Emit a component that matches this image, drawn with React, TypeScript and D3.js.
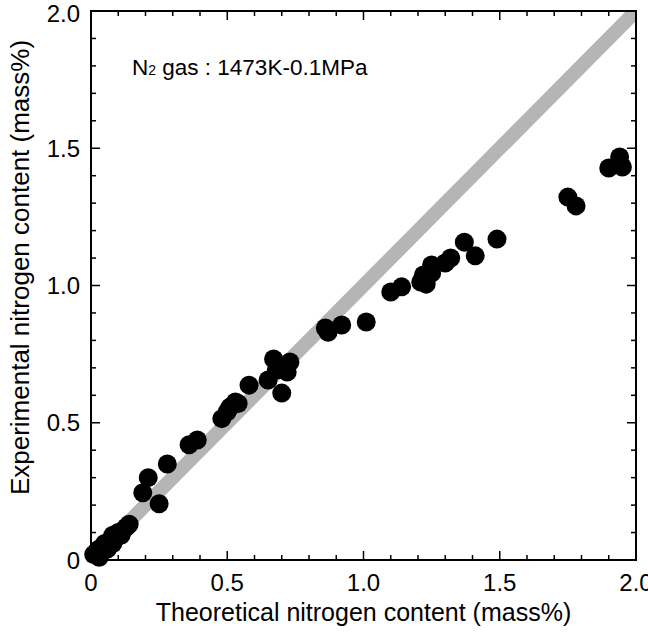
import * as d3 from "d3";
import { useEffect, useRef } from "react";

// theoretical vs experimental nitrogen content (mass%)
const theoretical = [
  0.01, 0.02, 0.03, 0.03, 0.04, 0.05, 0.06, 0.07, 0.08, 0.09, 0.10, 0.11, 0.12, 0.14,
  0.02, 0.05, 0.08, 0.13,
  0.19, 0.21, 0.25, 0.28, 0.36, 0.39,
  0.48, 0.50, 0.51, 0.53, 0.54, 0.58,
  0.65, 0.67, 0.68, 0.70, 0.72, 0.73,
  0.86, 0.87, 0.92, 1.01,
  1.10, 1.14, 1.21, 1.22, 1.23, 1.25, 1.25, 1.30, 1.32, 1.37, 1.41, 1.49,
  1.75, 1.78, 1.90, 1.94, 1.95,
];
const experimental = [
  0.02, 0.02, 0.01, 0.04, 0.03, 0.05, 0.04, 0.07, 0.06, 0.08, 0.10, 0.09, 0.11, 0.13,
  0.03, 0.06, 0.09, 0.12,
  0.245, 0.30, 0.205, 0.35, 0.42, 0.437,
  0.515, 0.54, 0.557, 0.576, 0.57, 0.637,
  0.656, 0.732, 0.692, 0.608, 0.685, 0.721,
  0.845, 0.83, 0.856, 0.867,
  0.976, 0.995, 1.013, 1.038, 1.005, 1.045, 1.075, 1.082, 1.10, 1.158, 1.108, 1.169,
  1.322, 1.29, 1.428, 1.468, 1.432,
];
const tickLabels = ["0", "0.5", "1.0", "1.5", "2.0"];

const ChartDraw = () => {
  const ref = useRef<SVGSVGElement>(null);

  useEffect(() => {
    const svg = d3.select(ref.current);
    svg.selectAll("*").remove();

    const width = 648;
    const height = 632;
    const margin = { top: 11, right: 12, bottom: 72, left: 91 };
    const innerW = width - margin.left - margin.right;
    const innerH = height - margin.top - margin.bottom;
    const font = "'Liberation Sans', Arial, Helvetica, sans-serif";

    const x = d3.scaleLinear().domain([0, 2]).range([0, innerW]);
    const y = d3.scaleLinear().domain([0, 2]).range([innerH, 0]);

    const g = svg
      .attr("width", width)
      .attr("height", height)
      .append("g")
      .attr("transform", `translate(${margin.left},${margin.top})`);

    g.append("clipPath")
      .attr("id", "frame")
      .append("rect")
      .attr("width", innerW)
      .attr("height", innerH);

    // y = x reference line
    g.append("line")
      .attr("clip-path", "url(#frame)")
      .attr("x1", x(0))
      .attr("y1", y(0))
      .attr("x2", x(2))
      .attr("y2", y(2))
      .attr("stroke", "#b5b5b5")
      .attr("stroke-width", 14);

    // points
    const pts = theoretical.map((t, i) => ({ t, e: experimental[i] }));
    g.selectAll(".dot")
      .data(pts)
      .enter()
      .append("circle")
      .attr("class", "dot")
      .attr("cx", d => x(d.t))
      .attr("cy", d => y(d.e))
      .attr("r", 9.5)
      .attr("fill", "#000");

    // inward ticks on four sides
    const ticks = d3.range(0, 21).map(i => i / 10);
    const major = (v: number) => Math.abs(v * 2 - Math.round(v * 2)) < 1e-6;
    const tickLen = (v: number) => (major(v) ? 9 : 5);
    const tg = g.append("g").attr("stroke", "#000").attr("stroke-width", 1.5);
    ticks.forEach(v => {
      tg.append("line").attr("x1", x(v)).attr("x2", x(v)).attr("y1", innerH).attr("y2", innerH - tickLen(v));
      tg.append("line").attr("x1", x(v)).attr("x2", x(v)).attr("y1", 0).attr("y2", tickLen(v));
      tg.append("line").attr("y1", y(v)).attr("y2", y(v)).attr("x1", 0).attr("x2", tickLen(v));
      tg.append("line").attr("y1", y(v)).attr("y2", y(v)).attr("x1", innerW).attr("x2", innerW - tickLen(v));
    });

    g.append("rect")
      .attr("width", innerW)
      .attr("height", innerH)
      .attr("fill", "none")
      .attr("stroke", "#000")
      .attr("stroke-width", 2);

    // tick labels
    const majors = [0, 0.5, 1, 1.5, 2];
    g.selectAll(".xl")
      .data(majors)
      .enter()
      .append("text")
      .attr("x", d => x(d))
      .attr("y", innerH + 31)
      .attr("text-anchor", "middle")
      .style("font-family", font)
      .style("font-size", "24px")
      .text((d, i) => tickLabels[i]);

    g.selectAll(".yl")
      .data(majors)
      .enter()
      .append("text")
      .attr("x", -11)
      .attr("y", d => y(d))
      .attr("dy", d => (d === 2 ? "0.45em" : "0.36em"))
      .attr("text-anchor", "end")
      .style("font-family", font)
      .style("font-size", "24px")
      .text((d, i) => tickLabels[i]);

    // axis titles
    g.append("text")
      .attr("x", innerW / 2)
      .attr("y", innerH + 61)
      .attr("text-anchor", "middle")
      .style("font-family", font)
      .style("font-size", "25px")
      .text("Theoretical nitrogen content (mass%)");

    g.append("text")
      .attr("transform", "rotate(-90)")
      .attr("x", -innerH / 2 + 18)
      .attr("y", -62)
      .attr("text-anchor", "middle")
      .style("font-family", font)
      .style("font-size", "26px")
      .text("Experimental nitrogen content (mass%)");

    // annotation
    const ann = g.append("text")
      .attr("x", 41)
      .attr("y", 64)
      .style("font-family", font)
      .style("font-size", "22.5px");
    ann.append("tspan").text("N");
    ann.append("tspan").style("font-size", "14px").text("2");
    ann.append("tspan").text(" gas : 1473K-0.1MPa");
  }, []);

  return (
    <svg
      ref={ref}
      width="648"
      height="632"
      style={{ position: "absolute", left: 0, top: 0, background: "#fff" }}
    ></svg>
  );
};

export default function App() {
  return <ChartDraw />;
}
